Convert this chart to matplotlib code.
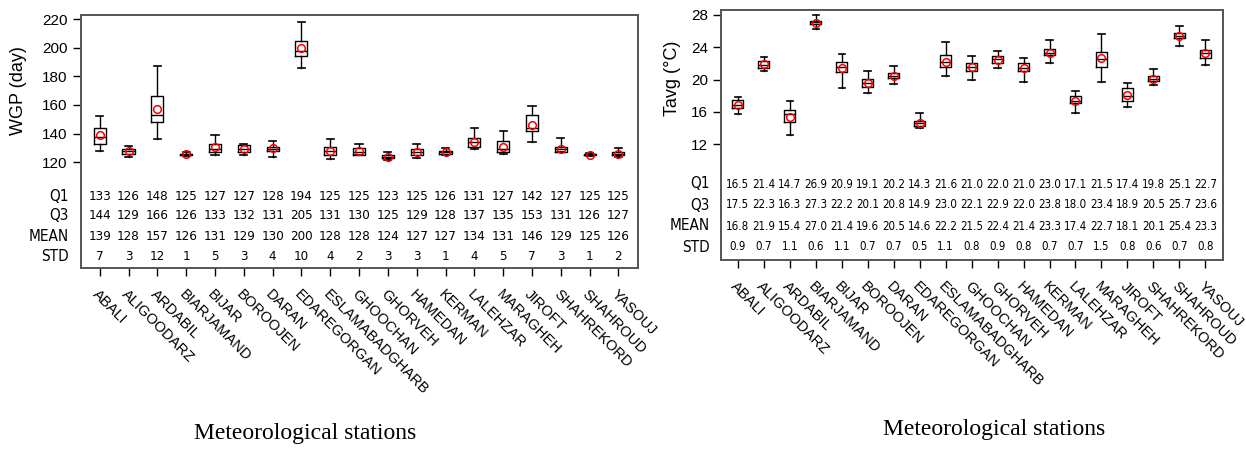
import numpy as np
import matplotlib
matplotlib.use('Agg')
import matplotlib.pyplot as plt
from matplotlib.transforms import blended_transform_factory

plt.rcParams['font.family'] = ['Liberation Sans', 'DejaVu Sans']

stations = ['ABALI', 'ALIGOODARZ', 'ARDABIL', 'BIARJAMAND', 'BIJAR', 'BOROOJEN',
            'DARAN', 'EDAREGORGAN', 'ESLAMABADGHARB', 'GHOOCHAN', 'GHORVEH',
            'HAMEDAN', 'KERMAN', 'LALEHZAR', 'MARAGHEH', 'JIROFT', 'SHAHREKORD',
            'SHAHROUD', 'YASOUJ']

# WGP (day)
wgp_q1 = [133, 126, 148, 125, 127, 127, 128, 194, 125, 125, 123, 125, 126, 131, 127, 142, 127, 125, 125]
wgp_q3 = [144, 129, 166, 126, 133, 132, 131, 205, 131, 130, 125, 129, 128, 137, 135, 153, 131, 126, 127]
wgp_mean = [139, 128, 157, 126, 131, 129, 130, 200, 128, 128, 124, 127, 127, 134, 131, 146, 129, 125, 126]
wgp_std = [7, 3, 12, 1, 5, 3, 4, 10, 4, 2, 3, 3, 1, 4, 5, 7, 3, 1, 2]
wgp_med = [137.5, 128, 153, 125.5, 129.5, 129.5, 129.5, 198, 128, 127, 124, 127, 127, 134, 129.5, 144, 129, 125.5, 126]
wgp_lo = [128, 124, 136, 124.5, 125, 125, 124, 186, 122, 125, 121.5, 123, 125, 129, 125.5, 134, 127, 124.5, 124]
wgp_hi = [152, 131.5, 187, 127, 139, 133, 135, 218, 136, 133, 127, 133, 130, 144, 142, 159, 137, 126.5, 130]

# Tavg (°C)
tavg_q1 = [16.5, 21.4, 14.7, 26.9, 20.9, 19.1, 20.2, 14.3, 21.6, 21.0, 22.0, 21.0, 23.0, 17.1, 21.5, 17.4, 19.8, 25.1, 22.7]
tavg_q3 = [17.5, 22.3, 16.3, 27.3, 22.2, 20.1, 20.8, 14.9, 23.0, 22.1, 22.9, 22.0, 23.8, 18.0, 23.4, 18.9, 20.5, 25.7, 23.6]
tavg_mean = [16.8, 21.9, 15.4, 27.0, 21.4, 19.6, 20.5, 14.6, 22.2, 21.5, 22.4, 21.4, 23.3, 17.4, 22.7, 18.1, 20.1, 25.4, 23.3]
tavg_std = [0.9, 0.7, 1.1, 0.6, 1.1, 0.7, 0.7, 0.5, 1.1, 0.8, 0.9, 0.8, 0.7, 0.7, 1.5, 0.8, 0.6, 0.7, 0.8]
tavg_med = [16.9, 21.8, 15.7, 27.1, 21.6, 19.6, 20.5, 14.6, 22.2, 21.6, 22.5, 21.4, 23.3, 17.3, 22.6, 18.0, 20.1, 25.4, 23.3]
tavg_lo = [15.7, 21.1, 13.1, 26.3, 19.0, 18.3, 19.5, 14.0, 20.4, 20.0, 21.4, 19.7, 22.0, 15.9, 19.7, 16.6, 19.3, 24.1, 21.8]
tavg_hi = [17.9, 22.8, 17.4, 28.0, 23.1, 21.1, 21.7, 15.9, 24.6, 22.9, 23.5, 22.7, 24.9, 18.6, 25.6, 19.6, 21.3, 26.6, 24.9]

W, H = 1246, 451
fig = plt.figure(figsize=(W / 100, H / 100), dpi=100)

# condensed look for the small table
narrow = dict(family=['Liberation Sans Narrow', 'DejaVu Sans'], stretch='condensed')


def panel(box, q1, q3, med, lo, hi, mean, std, fmt, ylim, yticks, ylabel,
          rows_y, num_size, title_x, title_y):
    l, t, r, b = box
    ax = fig.add_axes([l / W, (H - b) / H, (r - l) / W, (b - t) / H])
    pos = np.arange(1, len(stations) + 1)
    stats = [dict(q1=q1[i], q3=q3[i], med=med[i], whislo=lo[i], whishi=hi[i],
                  mean=mean[i], fliers=[]) for i in range(len(stations))]
    ax.bxp(stats, positions=pos, widths=0.42, capwidths=0.25, showmeans=True,
           boxprops=dict(color='black', lw=1.0),
           whiskerprops=dict(color='black', lw=1.0),
           capprops=dict(color='black', lw=1.2),
           medianprops=dict(color='black', lw=1.0),
           meanprops=dict(marker='o', mfc='none', mec='red', ms=5.5, mew=1.1))
    ax.set_xlim(0.35, len(stations) + 0.68)
    ax.set_ylim(*ylim)
    ax.set_yticks(yticks)
    ax.tick_params(axis='y', labelsize=11, length=6, width=1, direction='out')
    ax.set_xticks(pos)
    ax.set_xticklabels(stations, rotation=-45, ha='left', va='top',
                       rotation_mode='anchor', fontsize=10.5)
    ax.tick_params(axis='x', length=6, width=1, direction='out', pad=8)
    for s in ax.spines.values():
        s.set_color('#555555')
        s.set_linewidth(1.4)
    ax.set_ylabel(ylabel, fontsize=13)

    trans = blended_transform_factory(ax.transData, ax.transAxes)
    names = ['Q1', 'Q3', 'MEAN', 'STD']
    for k, vals in enumerate([q1, q3, mean, std]):
        ax.text(-0.022, rows_y[k], names[k], transform=ax.transAxes,
                ha='right', va='center', fontsize=11, **narrow)
        for i, v in enumerate(vals):
            ax.text(pos[i], rows_y[k], fmt.format(v), transform=trans,
                    ha='center', va='center', fontsize=num_size, **narrow)

    fig.text(title_x / W, 1 - title_y / H, 'Meteorological stations',
             ha='center', va='center', fontsize=17, family='Liberation Serif')
    return ax


ax1 = panel((81, 15, 638, 268), wgp_q1, wgp_q3, wgp_med, wgp_lo, wgp_hi,
            wgp_mean, wgp_std, '{:d}', (46.2, 222.8), range(120, 221, 20),
            'WGP (day)', [0.281, 0.206, 0.126, 0.047], 9.5, 305, 434)
ax1.yaxis.set_label_coords(-0.097, 0.70)

ax2 = panel((721, 10, 1223, 260), tavg_q1, tavg_q3, tavg_med, tavg_lo, tavg_hi,
            tavg_mean, tavg_std, '{:.1f}', (-2.3, 28.6), [12, 16, 20, 24, 28],
            'Tavg (\u00b0C)', [0.304, 0.22, 0.136, 0.052], 8.3, 994, 430)
ax2.yaxis.set_label_coords(-0.08, 0.726)

fig.savefig('out.png', dpi=100)
